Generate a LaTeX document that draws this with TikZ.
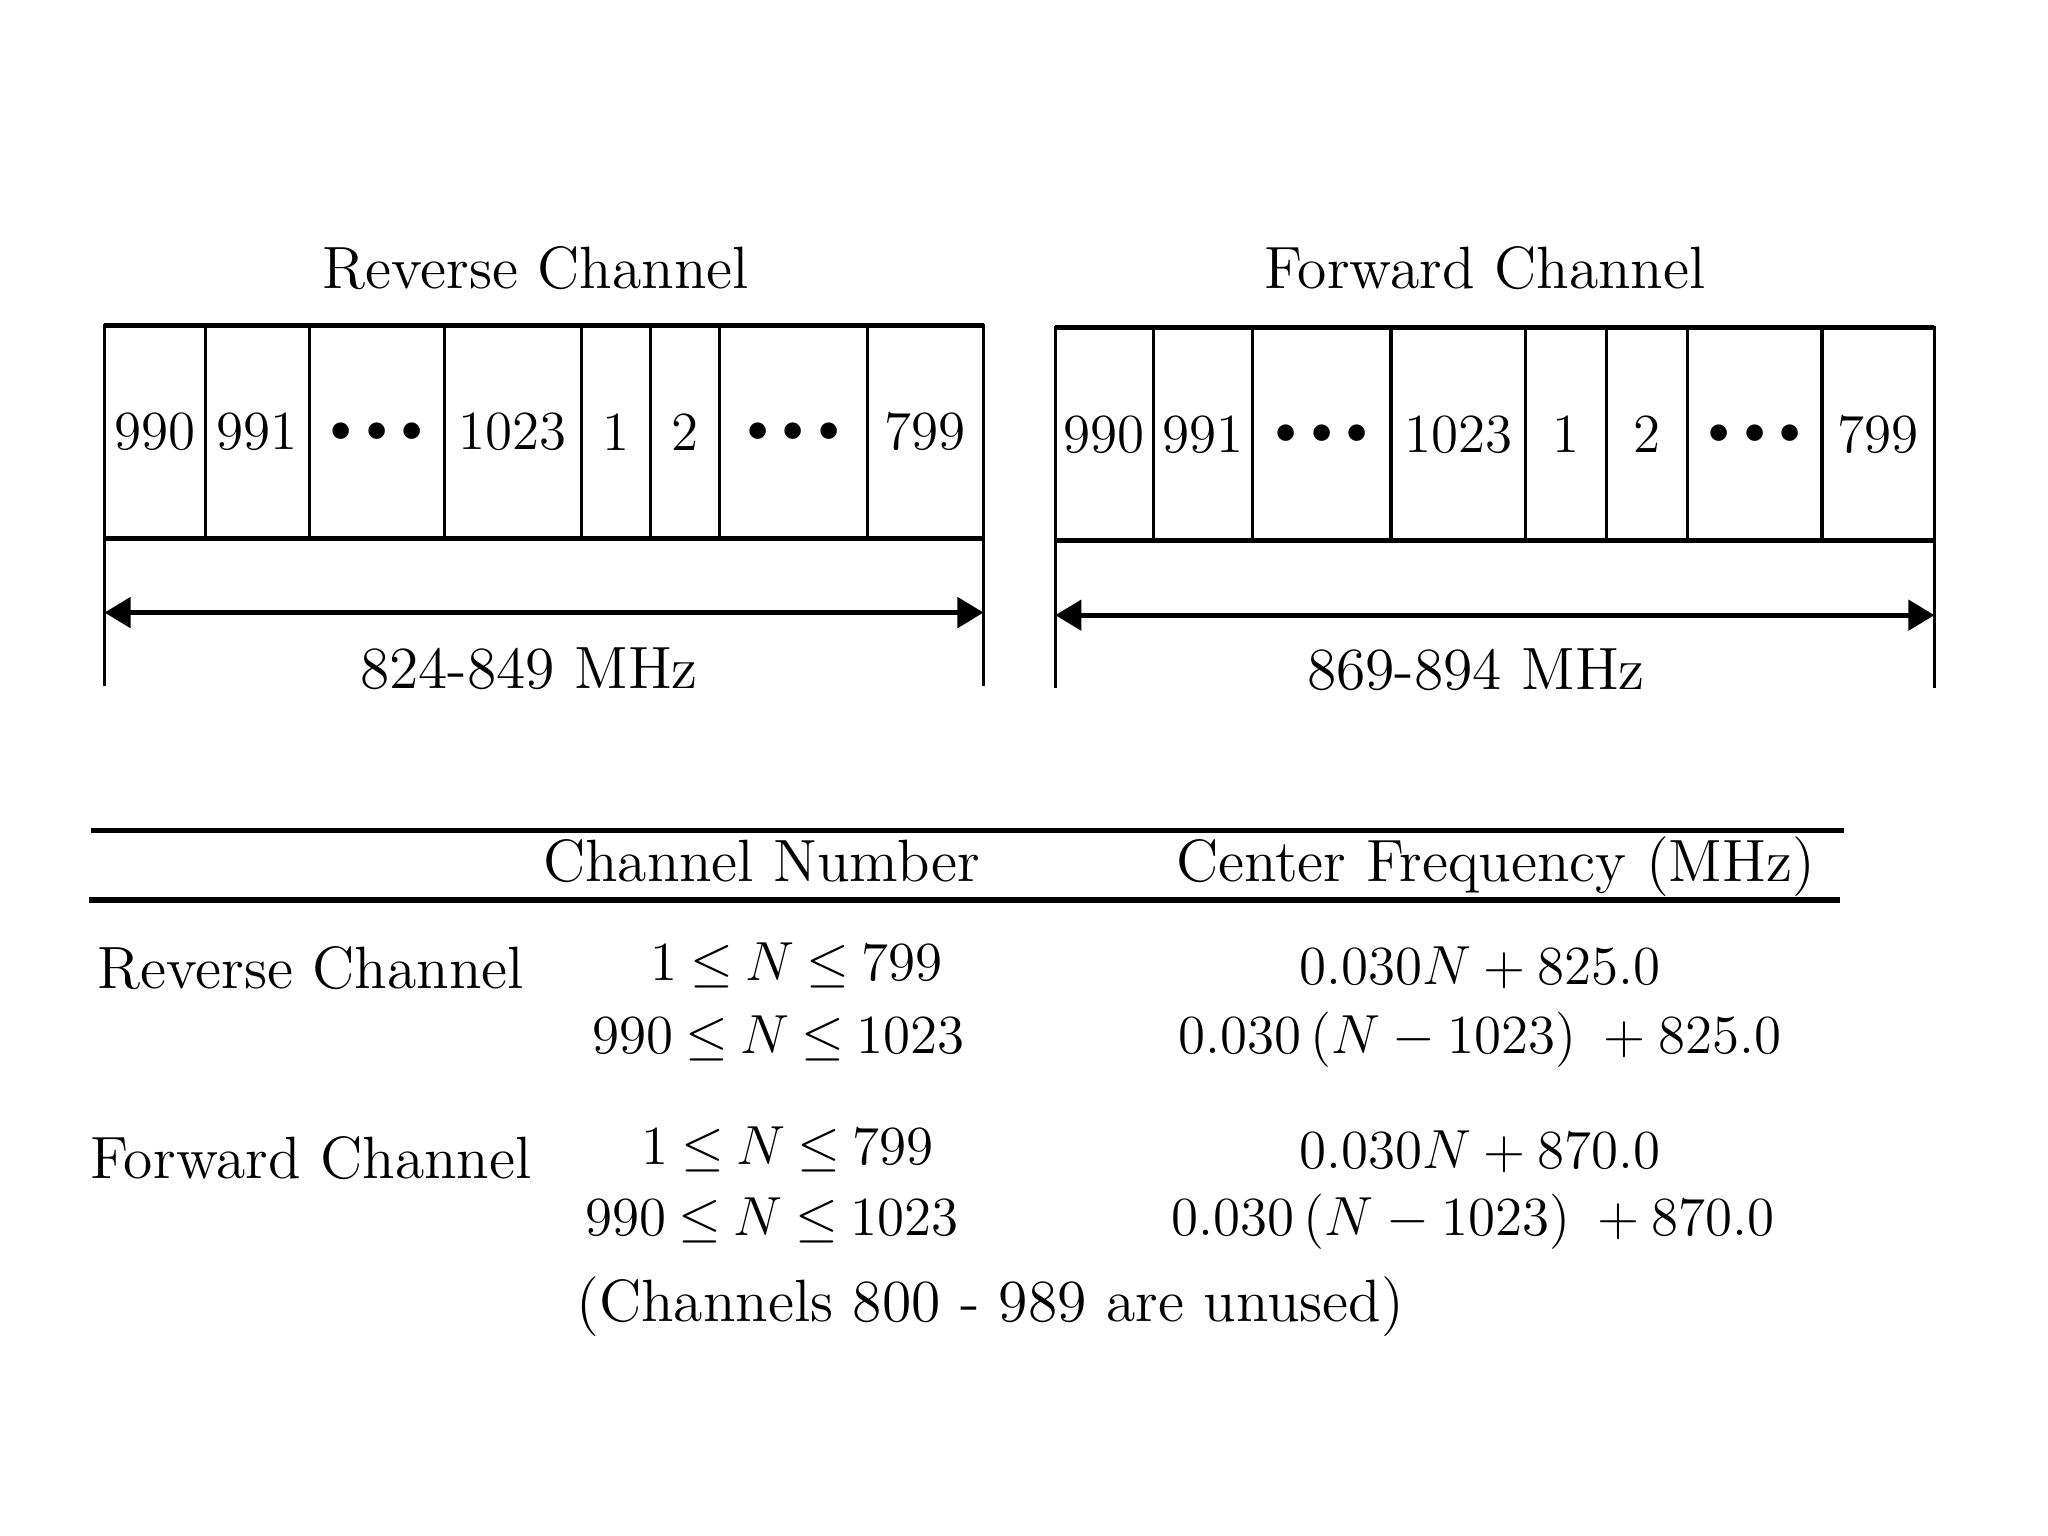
\documentclass[tikz,border=0pt]{standalone}
\usetikzlibrary{arrows.meta,positioning}

\newcommand{\chdots}{{\fontsize{9}{11}\selectfont$\bullet\mkern2mu\bullet\mkern2mu\bullet$}}

\begin{document}
\begin{tikzpicture}[
    x=0.01cm, y=-0.01cm,
    every node/.style={font=\fontsize{13}{15}\selectfont},
    cell/.style={draw, line width=0.7pt, minimum height=1.63cm, inner sep=0pt,
        outer sep=0pt, anchor=north west, font=\fontsize{12}{14}\selectfont},
    band/.style={line width=1.1pt},
    dimline/.style={line width=0.8pt},
    dimarrow/.style={line width=1.1pt,
        {Triangle[length=0.2cm,width=0.23cm]}-{Triangle[length=0.2cm,width=0.23cm]}},
    rule/.style={line width=1.2pt},
    chrange/.style={font={\fontsize{13}{15}\selectfont\thickmuskip=4mu\relax}}
]
\useasboundingbox (0,0) rectangle (1568,1176);

% reverse channel band
\node[cell, minimum width=0.77cm] (r1) at (80,249) {990};
\foreach \lab/\cw [count=\i from 2] in {991/80, \chdots/103, 1023/105, 1/53, 2/53, \chdots/113, 799/89} {
    \pgfmathtruncatemacro{\prev}{\i-1}
    \node[cell, minimum width=\cw*0.01cm] (r\i) at (r\prev.north east) {\lab};
}
\draw[band] (r1.north west) -- (r8.north east);
\draw[band] (r1.south west) -- (r8.south east);
\coordinate (rlow) at (0,525);
\coordinate (rmid) at (0,469);
\draw[dimline] (r1.south west) -- (r1.south west |- rlow);
\draw[dimline] (r8.south east) -- (r8.south east |- rlow);
\draw[dimarrow] (r1.south west |- rmid) -- (r8.south east |- rmid);
\node (rtitle) at (410,205) {Reverse Channel};
\node (rrange) at (405,512) {824-849 MHz};

% forward channel band
\node[cell, minimum width=0.75cm] (f1) at (808,251) {990};
\foreach \lab/\cw [count=\i from 2] in {991/76, \chdots/106, 1023/103, 1/62, 2/62, \chdots/103, 799/86} {
    \pgfmathtruncatemacro{\prev}{\i-1}
    \node[cell, minimum width=\cw*0.01cm] (f\i) at (f\prev.north east) {\lab};
}
\draw[band] (f1.north west) -- (f8.north east);
\draw[band] (f1.south west) -- (f8.south east);
\coordinate (flow) at (0,527);
\coordinate (fmid) at (0,471);
\draw[dimline] (f1.south west) -- (f1.south west |- flow);
\draw[dimline] (f8.south east) -- (f8.south east |- flow);
\draw[dimarrow] (f1.south west |- fmid) -- (f8.south east |- fmid);
\node (ftitle) at (1137,205) {Forward Channel};
\node (frange) at (1130,513) {869-894 MHz};

% table
\draw[rule] (70,636) -- (1412,636);
\draw[rule] (68,689) -- (1409,689);
\node[anchor=base] (hnum) at (583,675) {Channel Number};
\node[anchor=base] (hfreq) at (1145,675) {Center Frequency (MHz)};

\node[anchor=west] (revrow) at (62,741) {Reverse Channel};
\node[chrange] (revn1) at (610,739) {$1 \le N \le 799$};
\node[chrange] (revn2) at (596,795) {$990 \le N \le 1023$};
\node (revf1) at (1133,741) {$0.030N + 825.0$};
\node (revf2) at (1133,796) {$0.030\,(N - 1023)\; + 825.0$};

\node[anchor=west] (fwdrow) at (57,887) {Forward Channel};
\node[chrange] (fwdn1) at (603,880) {$1 \le N \le 799$};
\node[chrange] (fwdn2) at (591,934) {$990 \le N \le 1023$};
\node (fwdf1) at (1133,882) {$0.030N + 870.0$};
\node (fwdf2) at (1128,935) {$0.030\,(N - 1023)\; + 870.0$};

\node (unused) at (758,1000) {(Channels 800 - 989 are unused)};
\end{tikzpicture}
\end{document}
